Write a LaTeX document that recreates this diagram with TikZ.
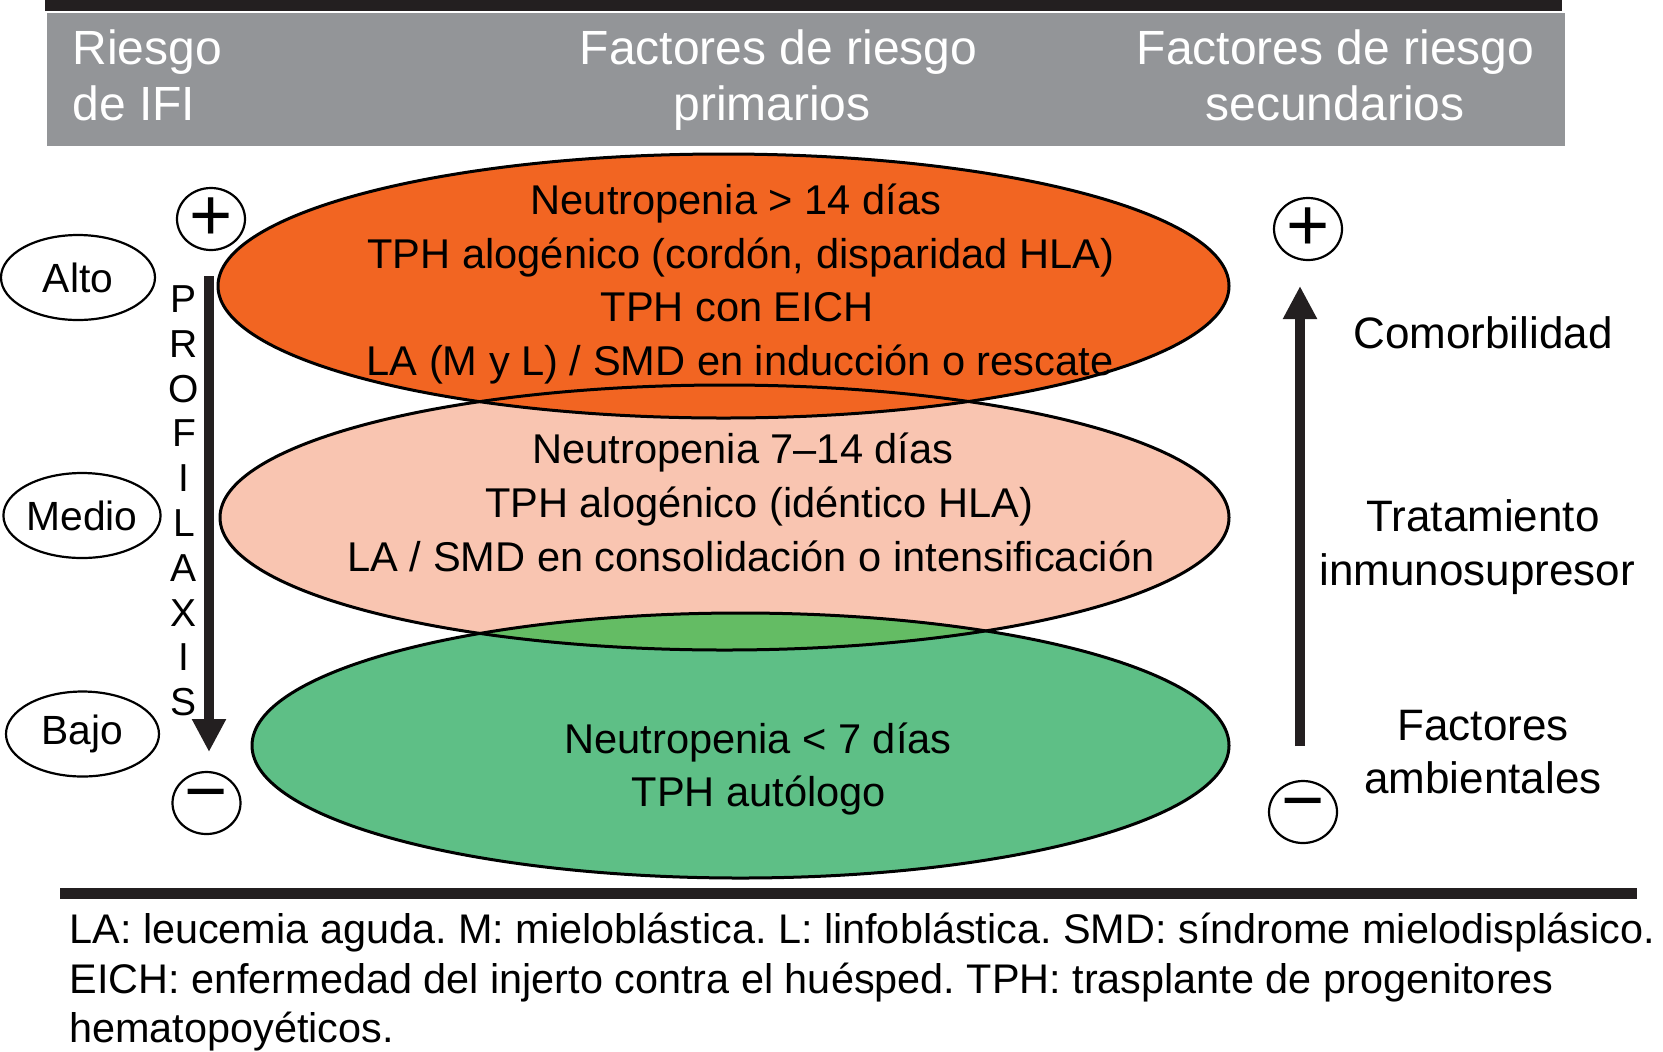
\documentclass[tikz,border=0pt]{standalone}
\usepackage{fontspec}
\setmainfont{Liberation Sans}
\usetikzlibrary{arrows.meta,shapes.geometric}
\definecolor{orangeA}{HTML}{F26522}
\definecolor{pinkA}{HTML}{F9C5B1}
\definecolor{greenA}{HTML}{5EBF86}
\definecolor{greenO}{HTML}{64BC64}
\definecolor{headgray}{HTML}{939598}
\definecolor{barblack}{HTML}{231F20}
\frenchspacing
\begin{document}
\begin{tikzpicture}[x=0.5pt,y=-0.5pt,
  bigell/.style={ellipse, inner sep=0pt, outer sep=0pt, draw=none},
  ellline/.style={line width=1.5pt, draw=black},
  ovalbox/.style={ellipse, draw, line width=1.1pt, inner sep=0pt, minimum height=42.5pt, font=\fontsize{20.4}{24}\selectfont},
  signbox/.style={ellipse, draw, line width=1.1pt, minimum width=34pt, minimum height=31pt, inner sep=0pt, font=\fontsize{37}{37}\selectfont},
  elltext/.style={anchor=base, inner sep=0pt, font=\fontsize{20.8}{24}\selectfont},
  headtext/.style={inner sep=0pt, text=white, font=\fontsize{24}{28}\selectfont},
  foottext/.style={anchor=base west, inner sep=0pt, font=\fontsize{20.7}{24}\selectfont},
  sidetext/.style={anchor=base, inner sep=0pt, font=\fontsize{22}{26}\selectfont},
  lettertext/.style={inner sep=0pt, font=\fontsize{19.5}{20}\selectfont},
  bigarrow/.style={line width=5pt, draw=barblack, -{Triangle[width=16pt,length=16.5pt]}}
]
\useasboundingbox (0,0) rectangle (1663,1051);

% bars and header
\fill[barblack] (45,0) rectangle (1562,11);
\fill[headgray] (47,13) rectangle (1565,146);
\fill[barblack] (60,888) rectangle (1637,899);

\node[headtext, anchor=base west] (h1a) at (72,64) {Riesgo};
\node[headtext, anchor=base west] (h1b) at (72,120) {de IFI};
\node[headtext, anchor=base] (h2a) at (778.5,64) {Factores de riesgo};
\node[headtext, anchor=base] (h2b) at (772,120) {primarios};
\node[headtext, anchor=base] (h3a) at (1335.5,64) {Factores de riesgo};
\node[headtext, anchor=base] (h3b) at (1335,120) {secundarios};

% big ellipses (fills)
\node[bigell, fill=pinkA, minimum width=504.5pt, minimum height=132.5pt] (pinkE) at (724.5,517.5) {};
\node[bigell, fill=orangeA, minimum width=505.5pt, minimum height=132pt] (orangeE) at (723.5,286) {};
\node[bigell, fill=greenA, minimum width=488.5pt, minimum height=132.5pt] (greenE) at (740.5,745.5) {};
\begin{scope}
  \clip (pinkE.center) ellipse [x radius=252.25pt, y radius=66.25pt];
  \fill[greenO] (greenE.center) ellipse [x radius=244.25pt, y radius=66.25pt];
\end{scope}
% outlines
\draw[ellline] (orangeE.center) ellipse [x radius=252.75pt, y radius=66pt];
\draw[ellline] (pinkE.center) ellipse [x radius=252.25pt, y radius=66.25pt];
\draw[ellline] (greenE.center) ellipse [x radius=244.25pt, y radius=66.25pt];

% texts in ellipses
\node[elltext] (o1) at (736,214) {Neutropenia > 14 días};
\node[elltext] (o2) at (741,268) {TPH alogénico (cordón, disparidad HLA)};
\node[elltext] (o3) at (737,321) {TPH con EICH};
\node[elltext] (o4) at (740,375) {LA (M y L) / SMD en inducción o rescate};
\node[elltext] (p1) at (743,463) {Neutropenia 7–14 días};
\node[elltext] (p2) at (759,517) {TPH alogénico (idéntico HLA)};
\node[elltext] (p3) at (751,571) {LA / SMD en consolidación o intensificación};
\node[elltext] (g1) at (758,753) {Neutropenia < 7 días};
\node[elltext] (g2) at (759,806) {TPH autólogo};

% left column
\node[ovalbox, minimum width=77pt] (alto) at (78,277.5) {Alto};
\node[ovalbox, minimum width=77pt] (medio) at (82,515.5) {Medio};
\node[ovalbox, minimum width=76.5pt] (bajo) at (82.5,734) {Bajo};

\node[signbox] (lplus) at (211,219) {+};
\node[signbox] (lminus) at (206.5,803) {−};
\coordinate (la1) at (209,276);
\coordinate (la2) at (209,752);
\draw[bigarrow] (la1) -- (la2);

\foreach \L [count=\i from 0] in {P,R,O,F,I,L,A,X,I,S}{
  \node[lettertext] (prof\i) at (184,299+44.8*\i) {\L};
}

% right column
\node[signbox] (rplus) at (1308,229) {+};
\node[signbox] (rminus) at (1303,812) {−};
\coordinate (ra1) at (1300,746);
\coordinate (ra2) at (1300,286);
\draw[bigarrow] (ra1) -- (ra2);

\node[sidetext] (s1) at (1483,348) {Comorbilidad};
\node[sidetext] (s2) at (1483,531) {Tratamiento};
\node[sidetext] (s3) at (1477,585) {inmunosupresor};
\node[sidetext] (s4) at (1483,740) {Factores};
\node[sidetext] (s5) at (1483,793) {ambientales};

% footnote
\node[foottext] (f1) at (69,943) {LA: leucemia aguda. M: mieloblástica. L: linfoblástica. SMD: síndrome mielodisplásico.};
\node[foottext] (f2) at (69,993) {EICH: enfermedad del injerto contra el huésped. TPH: trasplante de progenitores};
\node[foottext] (f3) at (69,1042) {hematopoyéticos.};
\end{tikzpicture}
\end{document}
